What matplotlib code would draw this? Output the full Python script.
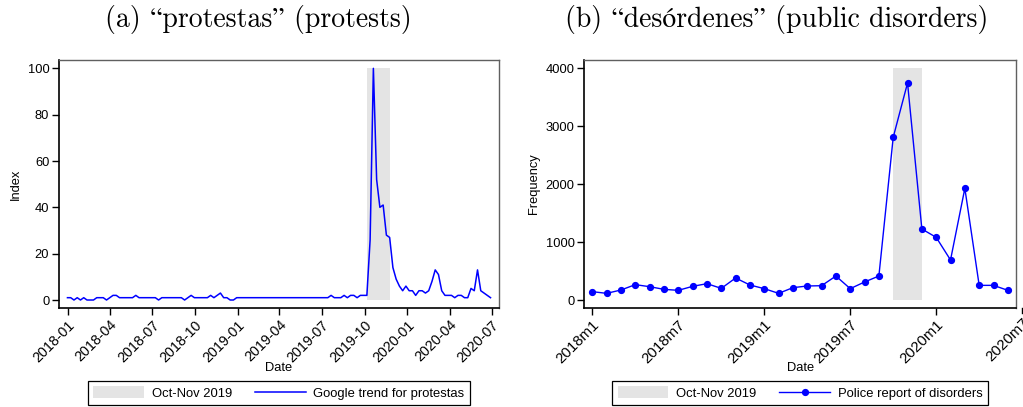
import matplotlib
matplotlib.use("Agg")
import matplotlib.pyplot as plt
import matplotlib.dates as mdates
import matplotlib.transforms as mtransforms
from matplotlib.patches import Patch
from matplotlib.lines import Line2D
import pandas as pd
import numpy as np

# ---------------- data ----------------
# (a) weekly Google trend index for "protestas"
trend_start = "2017-12-31"
trend_values = [
    1, 1, 0, 1, 0, 1, 0, 0, 0, 1,
    1, 1, 0, 1, 2, 2, 1, 1, 1, 1,
    1, 2, 1, 1, 1, 1, 1, 1, 0, 1,
    1, 1, 1, 1, 1, 1, 0, 1, 2, 1,
    1, 1, 1, 1, 2, 1, 2, 3, 1, 1,
    0, 0, 1, 1, 1, 1, 1, 1, 1, 1,
    1, 1, 1, 1, 1, 1, 1, 1, 1, 1,
    1, 1, 1, 1, 1, 1, 1, 1, 1, 1,
    1, 2, 1, 1, 1, 2, 1, 2, 2, 1,
    2, 2, 2, 26, 100, 52, 40, 41, 28, 27,
    14, 9, 6, 4, 6, 4, 4, 2, 4, 4,
    3, 4, 8, 13, 11, 4, 2, 2, 2, 1,
    2, 2, 1, 1, 5, 4, 13, 4, 3, 2,
    1,
]
trend_ticks = pd.date_range("2018-01-01", "2020-07-01", freq="3MS")
trend_shade = (pd.Timestamp("2019-10-06"), pd.Timestamp("2019-11-24"))
trend_shade_top = 100

# (b) monthly police reports of public disorders, 2018m1 .. 2020m6
month_labels = ["2018m1", "2018m7", "2019m1", "2019m7", "2020m1", "2020m7"]
month_tick_pos = [0, 6, 12, 18, 24, 30]
police_values = [
    144, 115, 173, 265, 230, 184, 167, 236, 282, 201,
    380, 259, 196, 115, 213, 242, 247, 414, 196, 311,
    414, 2809, 3747, 1226, 1082, 691, 1928, 253, 253, 167,
]
police_shade = (21, 23)
police_shade_top = 4000

titles = ["(a) \u201cprotestas\u201d (protests)",
          "(b) \u201cdes\u00f3rdenes\u201d (public disorders)"]

# ---------------- style ----------------
BLUE = "#0000ff"
SHADE = "#e4e4e4"
plt.rcParams["font.family"] = ["Liberation Sans", "DejaVu Sans"]
YTICK_FS = 9.3
XTICK_FS_A = 10.3
XTICK_FS_B = 10.8
LAB_FS = 9.3
LEG_FS = 9.4
TITLE_FS = 20
TITLE_FAMILY = ["cmr10", "STIXGeneral", "DejaVu Serif"]

W, H = 1023, 407
fig = plt.figure(figsize=(W / 100, H / 100), dpi=100)


def px_axes(x0, x1, y0, y1):
    return fig.add_axes([x0 / W, 1 - y1 / H, (x1 - x0) / W, (y1 - y0) / H])


def style_axes(ax, xfs):
    for s in ["top", "right"]:
        ax.spines[s].set_color("#606060")
        ax.spines[s].set_linewidth(1.0)
    for s in ["left", "bottom"]:
        ax.spines[s].set_color("black")
        ax.spines[s].set_linewidth(1.2)
    ax.tick_params(axis="both", direction="out", length=5, width=1.0,
                   colors="black", pad=2)
    ax.tick_params(axis="y", labelsize=YTICK_FS)
    ax.tick_params(axis="x", labelsize=xfs)
    for lab in ax.get_xticklabels():
        lab.set_rotation(45)
        lab.set_ha("right")
        lab.set_rotation_mode("anchor")


# ---------- panel (a) ----------
ax1 = px_axes(59, 499, 60, 308)
dates = pd.date_range(trend_start, periods=len(trend_values), freq="7D")
ax1.fill_between(list(trend_shade), 0, trend_shade_top, color=SHADE, lw=0)
ax1.plot(dates, trend_values, color=BLUE, lw=1.1)
ax1.set_ylim(-3.45, 103.6)
ax1.set_yticks([0, 20, 40, 60, 80, 100])
span = dates[-1] - dates[0]
ax1.set_xlim(dates[0] - span * 0.02, dates[-1] + span * 0.02)
ax1.set_xticks(trend_ticks)
ax1.xaxis.set_major_formatter(mdates.DateFormatter("%Y-%m"))
style_axes(ax1, XTICK_FS_A)
ax1.set_ylabel("Index", fontsize=LAB_FS)
ax1.set_xlabel("Date", fontsize=LAB_FS, labelpad=-2)

leg1 = fig.legend(
    handles=[Patch(facecolor=SHADE, edgecolor="none"),
             Line2D([], [], color=BLUE, lw=1.1)],
    labels=["Oct-Nov 2019", "Google trend for protestas"],
    loc="center", bbox_to_anchor=(279 / W, 1 - 393 / H), ncol=2,
    fontsize=LEG_FS, frameon=True, fancybox=False, framealpha=1,
    edgecolor="black", handlelength=3.85, handleheight=1.05,
    handletextpad=0.6, columnspacing=1.8, borderpad=0.4)
leg1.get_frame().set_linewidth(0.9)

# ---------- panel (b) ----------
ax2 = px_axes(584.3, 1016, 60, 308)
months = np.arange(len(police_values))
ax2.fill_between(list(police_shade), 0, police_shade_top, color=SHADE, lw=0)
ax2.plot(months, police_values, color=BLUE, lw=1.0, marker="o", ms=4.2)
ax2.set_ylim(-138, 4144)
ax2.set_yticks([0, 1000, 2000, 3000, 4000])
ax2.set_xlim(-0.56, 29.57)
ax2.set_xticks(month_tick_pos[:-1])
ax2.set_xticklabels(month_labels[:-1])
style_axes(ax2, XTICK_FS_B)
# last tick (2020m7) lies just beyond the plot region, as in the original
trans = mtransforms.blended_transform_factory(ax2.transData, ax2.transAxes)
ax2.add_line(Line2D([month_tick_pos[-1]] * 2, [0, -5 / 248], transform=trans,
                    color="black", lw=1.0, clip_on=False))
ax2.annotate(month_labels[-1], xy=(month_tick_pos[-1], 0),
             xycoords=("data", "axes fraction"), xytext=(0, -5.2),
             textcoords="offset points", rotation=45, ha="right", va="top",
             rotation_mode="anchor", fontsize=XTICK_FS_B,
             annotation_clip=False)
ax2.set_ylabel("Frequency", fontsize=LAB_FS)
ax2.set_xlabel("Date", fontsize=LAB_FS, labelpad=-3)

leg2 = fig.legend(
    handles=[Patch(facecolor=SHADE, edgecolor="none"),
             Line2D([], [], color=BLUE, lw=1.0, marker="o", ms=4.2)],
    labels=["Oct-Nov 2019", "Police report of disorders"],
    loc="center", bbox_to_anchor=(800 / W, 1 - 393 / H), ncol=2,
    fontsize=LEG_FS, frameon=True, fancybox=False, framealpha=1,
    edgecolor="black", handlelength=3.85, handleheight=1.05,
    handletextpad=0.6, columnspacing=1.8, borderpad=0.4)
leg2.get_frame().set_linewidth(0.9)

# ---------- titles ----------
fig.text(258 / W, 1 - 19 / H, titles[0], ha="center", va="center",
         fontsize=TITLE_FS, family=TITLE_FAMILY)
fig.text(777 / W, 1 - 19 / H, titles[1], ha="center", va="center",
         fontsize=TITLE_FS, family=TITLE_FAMILY)

fig.savefig("out.png", dpi=100, facecolor="white")
